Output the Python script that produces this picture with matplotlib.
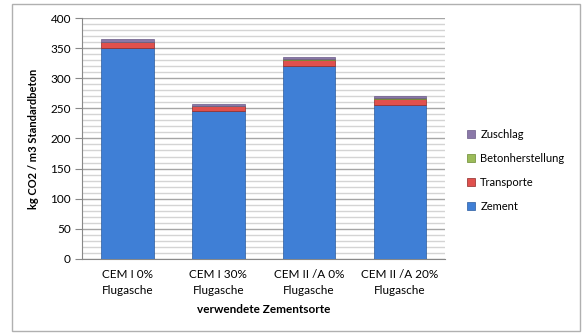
import numpy as np
import matplotlib.pyplot as plt
from matplotlib.patches import Rectangle

plt.rcParams['font.family'] = ['Lato', 'DejaVu Sans']

# kg CO2 per m3 Standardbeton, je Zementsorte
sorten = ['CEM I 0%\nFlugasche', 'CEM I 30%\nFlugasche',
          'CEM II /A 0%\nFlugasche', 'CEM II /A 20%\nFlugasche']
zement = [350, 246, 321, 256]
transporte = [10, 8, 10, 10]
betonherstellung = [0.5, 0.5, 0.5, 0.5]
zuschlag = [4, 3.5, 4, 4]

serien = [('Zement', zement, '#3f7fd6', '#2a5b9e'),
          ('Transporte', transporte, '#e0504d', '#8e2a28'),
          ('Betonherstellung', betonherstellung, '#9bbb59', '#6a8a30'),
          ('Zuschlag', zuschlag, '#8a78a8', '#6a5a88')]

fig = plt.figure(figsize=(5.82, 3.34), dpi=100)
ax = fig.add_axes([0.141, 0.225, 0.624, 0.721])

x = np.arange(len(sorten))
bottom = np.zeros(len(sorten))
handles = []
for name, vals, fc, ec in serien:
    b = ax.bar(x, vals, 0.58, bottom=bottom, color=fc, edgecolor=ec,
               linewidth=0.5, label=name, zorder=3)
    handles.append(b)
    bottom += np.array(vals)

ax.set_xlim(-0.5, len(sorten) - 0.5)
ax.set_ylim(0, 400)
ax.set_yticks(np.arange(0, 401, 50))
ax.set_yticks(np.arange(0, 401, 10), minor=True)
ax.grid(axis='y', which='major', color='#a6a6a6', linewidth=1.0, zorder=0)
ax.grid(axis='y', which='minor', color='#d4d4d4', linewidth=1.0, zorder=0)
ax.tick_params(axis='y', which='major', length=5, color='#888888',
               labelsize=8.5, pad=3)
ax.tick_params(axis='y', which='minor', length=0)
ax.tick_params(axis='x', length=0, labelsize=8.5, pad=7)
ax.set_xticks(x)
ax.set_xticklabels(sorten, linespacing=1.55)

for s in ['top', 'right']:
    ax.spines[s].set_visible(False)
for s in ['left', 'bottom']:
    ax.spines[s].set_color('#888888')

ax.set_ylabel('kg CO2 / m3 Standardbeton', fontsize=8, fontweight='bold',
              labelpad=8)
ax.set_xlabel('verwendete Zementsorte', fontsize=8.5, fontweight='bold',
              labelpad=6)

leg = fig.legend(handles[::-1], [h.get_label() for h in handles[::-1]],
                 loc='center left', bbox_to_anchor=(0.785, 0.49),
                 frameon=False, fontsize=8, handlelength=0.7,
                 handleheight=0.7, handletextpad=0.5, labelspacing=1.15)

# Rahmen um das Diagramm
fig.patches.append(Rectangle((0.021, 0.01), 0.975, 0.978,
                             transform=fig.transFigure, fill=False,
                             edgecolor='#b0b0b0', linewidth=1.0))

fig.savefig('out.png', dpi=100)
